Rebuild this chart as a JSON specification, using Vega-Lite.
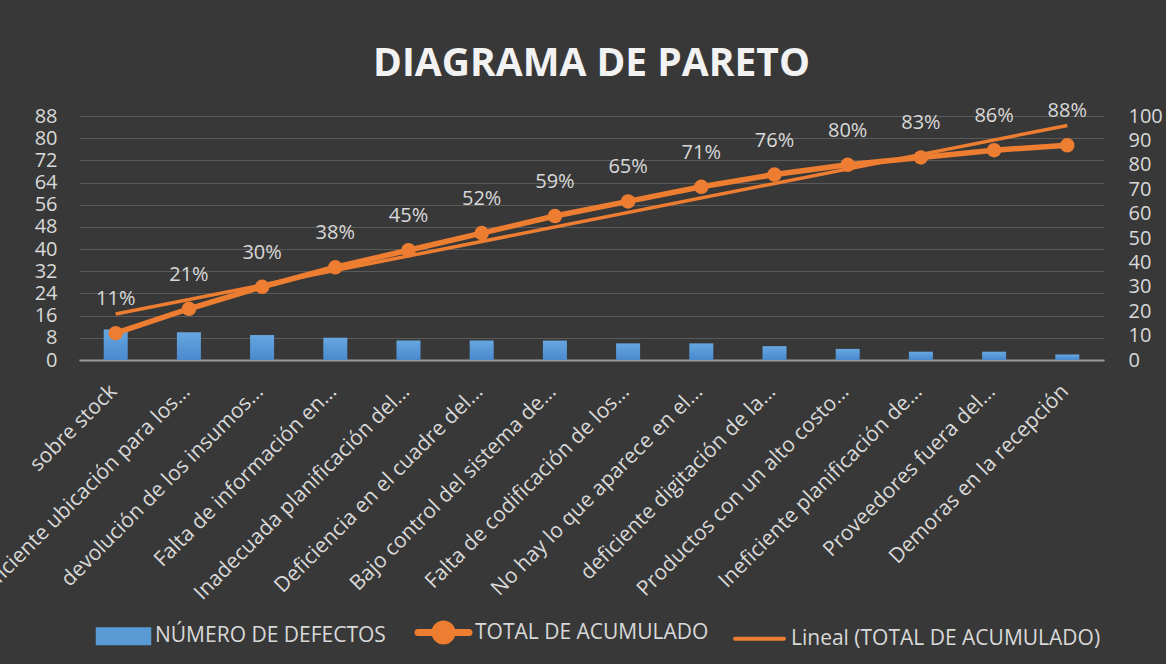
{
  "$schema": "https://vega.github.io/schema/vega-lite/v6.json",
  "width": 1025,
  "height": 244,
  "autosize": {"type": "none"},
  "padding": {"left": 79, "top": 116, "right": 62, "bottom": 304},
  "background": "#383838",
  "title": {
    "text": "DIAGRAMA DE PARETO",
    "font": "Open Sans",
    "fontSize": 39,
    "fontWeight": "bold",
    "color": "#f2f2f2",
    "anchor": "middle",
    "frame": "group",
    "offset": 17
  },
  "datasets": {
    "pareto": [
      {"idx": 1, "causa": "sobre stock", "defectos": 11, "acumulado": 11, "etiqueta": "11%"},
      {"idx": 2, "causa": "Deficiente ubicación para los...", "defectos": 10, "acumulado": 21, "etiqueta": "21%"},
      {"idx": 3, "causa": "devolución de los insumos...", "defectos": 9, "acumulado": 30, "etiqueta": "30%"},
      {"idx": 4, "causa": "Falta de información en...", "defectos": 8, "acumulado": 38, "etiqueta": "38%"},
      {"idx": 5, "causa": "Inadecuada planificación del...", "defectos": 7, "acumulado": 45, "etiqueta": "45%"},
      {"idx": 6, "causa": "Deficiencia en el cuadre del...", "defectos": 7, "acumulado": 52, "etiqueta": "52%"},
      {"idx": 7, "causa": "Bajo control del sistema de...", "defectos": 7, "acumulado": 59, "etiqueta": "59%"},
      {"idx": 8, "causa": "Falta de codificación de los...", "defectos": 6, "acumulado": 65, "etiqueta": "65%"},
      {"idx": 9, "causa": "No hay lo que aparece en el...", "defectos": 6, "acumulado": 71, "etiqueta": "71%"},
      {"idx": 10, "causa": "deficiente digitación de la...", "defectos": 5, "acumulado": 76, "etiqueta": "76%"},
      {"idx": 11, "causa": "Productos con un alto costo...", "defectos": 4, "acumulado": 80, "etiqueta": "80%"},
      {"idx": 12, "causa": "Ineficiente planificación de...", "defectos": 3, "acumulado": 83, "etiqueta": "83%"},
      {"idx": 13, "causa": "Proveedores fuera del...", "defectos": 3, "acumulado": 86, "etiqueta": "86%"},
      {"idx": 14, "causa": "Demoras en la recepción", "defectos": 2, "acumulado": 88, "etiqueta": "88%"}
    ]
  },
  "data": {"name": "pareto"},
  "encoding": {
    "x": {
      "field": "causa",
      "type": "nominal",
      "scale": {
        "domain": ["sobre stock", "Deficiente ubicación para los...", "devolución de los insumos...", "Falta de información en...", "Inadecuada planificación del...", "Deficiencia en el cuadre del...", "Bajo control del sistema de...", "Falta de codificación de los...", "No hay lo que aparece en el...", "deficiente digitación de la...", "Productos con un alto costo...", "Ineficiente planificación de...", "Proveedores fuera del...", "Demoras en la recepción"],
        "paddingInner": 0.672,
        "paddingOuter": 0.3375
      },
      "axis": {
        "title": null,
        "labelAngle": -45,
        "labelAlign": "right",
        "labelBaseline": "middle",
        "labelPadding": 28,
        "labelOffset": -2,
        "labelLimit": 0,
        "labelFontSize": 21,
        "labelFont": "Open Sans",
        "labelColor": "#d9d9d9",
        "ticks": false,
        "tickSize": 0,
        "grid": false,
        "domain": true,
        "domainColor": "#9a9a9a",
        "domainWidth": 2
      }
    }
  },
  "layer": [
    {
      "mark": {
        "type": "bar",
        "fill": {
          "gradient": "linear",
          "x1": 0, "y1": 0, "x2": 0, "y2": 1,
          "stops": [
            {"offset": 0, "color": "#66A7E1"},
            {"offset": 1, "color": "#4A89CD"}
          ]
        }
      },
      "encoding": {
        "y": {
          "field": "defectos",
          "type": "quantitative",
          "scale": {"domain": [0, 88], "nice": false},
          "axis": {
            "title": null,
            "orient": "left",
            "values": [0, 8, 16, 24, 32, 40, 48, 56, 64, 72, 80, 88],
            "labelFontSize": 20,
            "labelFont": "Open Sans",
            "labelColor": "#d9d9d9",
            "labelPadding": 22,
            "ticks": false,
            "tickSize": 0,
            "domain": false,
            "grid": true,
            "gridColor": "#5a5a5a",
            "gridWidth": 1.2
          }
        }
      }
    },
    {
      "encoding": {
        "y": {
          "field": "acumulado",
          "type": "quantitative",
          "scale": {"domain": [0, 100], "nice": false},
          "axis": {
            "title": null,
            "orient": "right",
            "values": [0, 10, 20, 30, 40, 50, 60, 70, 80, 90, 100],
            "labelFontSize": 20,
            "labelFont": "Open Sans",
            "labelColor": "#d9d9d9",
            "labelPadding": 24,
            "ticks": false,
            "tickSize": 0,
            "domain": false,
            "grid": false
          }
        }
      },
      "layer": [
        {
          "mark": {"type": "line", "strokeWidth": 5.5, "point": {"filled": true, "size": 210}},
          "encoding": {
            "color": {
              "datum": "TOTAL DE ACUMULADO",
              "type": "nominal",
              "scale": {
                "domain": ["NÚMERO DE DEFECTOS", "TOTAL DE ACUMULADO", "Lineal (TOTAL DE ACUMULADO)"],
                "range": ["#5B9BD5", "#ED7D31", "#ED7D31"]
              },
              "legend": {
                "title": null,
                "orient": "none",
                "legendX": 34,
                "legendY": 506,
                "direction": "horizontal",
                "columns": 3,
                "padding": 0,
                "columnPadding": 18,
                "symbolSize": 2652,
                "labelFont": "Open Sans",
                "labelFontSize": 21,
                "labelColor": "#d9d9d9",
                "labelOffset": 21,
                "labelLimit": 0,
                "encode": {
                  "symbols": {
                    "update": {
                      "shape": {"signal": "datum.value == 'NÚMERO DE DEFECTOS' ? 'M-1,-0.27H1V0.27H-1Z' : (datum.value == 'TOTAL DE ACUMULADO' ? 'M-0.99,0H0.99M0.33,0A0.33,0.33,0,1,1,-0.33,0A0.33,0.33,0,1,1,0.33,0Z' : 'M-0.95,0H0.95')"},
                      "fill": {"signal": "datum.value == 'NÚMERO DE DEFECTOS' ? '#5B9BD5' : (datum.value == 'TOTAL DE ACUMULADO' ? '#ED7D31' : 'transparent')"},
                      "stroke": {"signal": "datum.value == 'NÚMERO DE DEFECTOS' ? 'transparent' : '#ED7D31'"},
                      "strokeWidth": {"signal": "datum.value == 'TOTAL DE ACUMULADO' ? 7 : 4"},
                      "strokeCap": {"value": "round"},
                      "opacity": {"value": 1}
                    }
                  }
                }
              }
            }
          }
        },
        {
          "transform": [
            {"regression": "acumulado", "on": "idx", "method": "linear"},
            {"lookup": "idx", "from": {"data": {"name": "pareto"}, "key": "idx", "fields": ["causa"]}}
          ],
          "mark": {"type": "line", "strokeWidth": 3.5},
          "encoding": {
            "color": {
              "datum": "Lineal (TOTAL DE ACUMULADO)",
              "type": "nominal",
              "scale": {
                "domain": ["NÚMERO DE DEFECTOS", "TOTAL DE ACUMULADO", "Lineal (TOTAL DE ACUMULADO)"],
                "range": ["#5B9BD5", "#ED7D31", "#ED7D31"]
              }
            }
          }
        },
        {
          "mark": {"type": "text", "dy": -34, "font": "Open Sans", "fontSize": 20, "color": "#d9d9d9"},
          "encoding": {
            "text": {"field": "etiqueta", "type": "nominal"}
          }
        }
      ]
    }
  ],
  "resolve": {"scale": {"y": "independent"}, "axis": {"y": "independent"}},
  "config": {
    "view": {"stroke": null},
    "font": "Open Sans"
  }
}
